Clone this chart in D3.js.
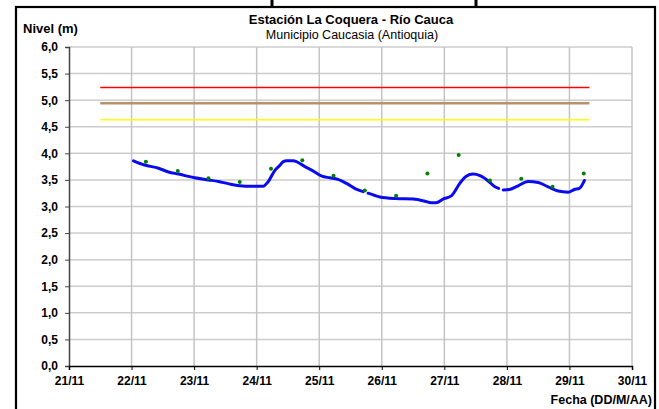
<!DOCTYPE html>
<html>
<head>
<meta charset="utf-8">
<script src="https://cdn.jsdelivr.net/npm/d3@7"></script>
<style>
  html, body { margin: 0; padding: 0; background: #fff; }
  svg { display: block; font-family: Arial, "Liberation Sans", sans-serif; }
</style>
</head>
<body>
<svg id="chart" width="659" height="409"></svg>
<script>
// Water level series (hourly gauge record); null marks a gap in the record
const levelTimes = [
  "2011-11-22 00:45", "2011-11-22 05:00", "2011-11-22 10:20", "2011-11-22 14:10", "2011-11-22 18:00",
  "2011-11-23 00:15", "2011-11-23 05:30", "2011-11-23 09:20", "2011-11-23 13:00", "2011-11-23 17:30",
  "2011-11-23 22:00", "2011-11-24 02:25", "2011-11-24 04:20", "2011-11-24 07:00", "2011-11-24 08:50",
  "2011-11-24 10:05", "2011-11-24 11:30", "2011-11-24 14:00", "2011-11-24 18:30", "2011-11-24 21:35",
  "2011-11-25 01:00", "2011-11-25 04:05", "2011-11-25 07:10", "2011-11-25 11:00", "2011-11-25 14:25",
  "2011-11-25 16:50", "2011-11-25 17:50", "2011-11-25 18:45", "2011-11-25 23:15", "2011-11-26 05:30",
  "2011-11-26 12:00", "2011-11-26 16:35", "2011-11-26 19:00", "2011-11-26 20:50", "2011-11-26 23:30",
  "2011-11-27 02:40", "2011-11-27 06:00", "2011-11-27 08:25", "2011-11-27 11:00", "2011-11-27 13:40",
  "2011-11-27 16:50", "2011-11-27 19:25", "2011-11-27 20:50", "2011-11-27 21:40", "2011-11-27 22:35",
  "2011-11-28 01:00", "2011-11-28 04:20", "2011-11-28 08:10", "2011-11-28 12:00", "2011-11-28 15:50",
  "2011-11-28 19:40", "2011-11-28 23:30", "2011-11-29 01:55", "2011-11-29 03:50", "2011-11-29 05:45"
];
const levelValues = [
  3.86, 3.78, 3.72, 3.65, 3.61,
  3.54, 3.50, 3.47, 3.43, 3.39,
  3.38, 3.38, 3.46, 3.68, 3.77,
  3.84, 3.86, 3.86, 3.75, 3.67,
  3.57, 3.54, 3.51, 3.42, 3.32,
  3.28, null, 3.25, 3.18, 3.15,
  3.14, 3.10, 3.07, 3.07, 3.14,
  3.20, 3.44, 3.57, 3.61, 3.58,
  3.48, 3.37, 3.34, null, 3.31,
  3.32, 3.39, 3.47, 3.45, 3.37,
  3.29, 3.27, 3.32, 3.34, 3.49
];

// Manual staff-gauge readings (twice daily)
const readingTimes = [
  "2011-11-22 05:30", "2011-11-22 17:45", "2011-11-23 05:30", "2011-11-23 17:30", "2011-11-24 05:30",
  "2011-11-24 17:30", "2011-11-25 05:30", "2011-11-25 17:30", "2011-11-26 05:30", "2011-11-26 17:30",
  "2011-11-27 05:30", "2011-11-27 17:30", "2011-11-28 05:30", "2011-11-28 17:30", "2011-11-29 05:30"
];
const readingValues = [3.84, 3.67, 3.53, 3.46, 3.71, 3.87, 3.58, 3.30, 3.20, 3.62, 3.97, 3.49, 3.52, 3.37, 3.62];

// Alert thresholds
const thresholdNames = ["roja", "naranja", "amarilla"];
const thresholdValues = [5.24, 4.94, 4.63];
const thresholdColors = ["#ff0000", "#b8906a", "#ffff00"];
const thresholdWidths = [1.5, 2.5, 1.5];
const thresholdSpan = ["2011-11-21 12:00", "2011-11-29 07:40"];

// Axis ticks
const xTickDates = ["2011-11-21", "2011-11-22", "2011-11-23", "2011-11-24", "2011-11-25",
                    "2011-11-26", "2011-11-27", "2011-11-28", "2011-11-29", "2011-11-30"];
const yTickValues = [0, 0.5, 1, 1.5, 2, 2.5, 3, 3.5, 4, 4.5, 5, 5.5, 6];

const parseTime = d3.timeParse("%Y-%m-%d %H:%M");
const parseDay = d3.timeParse("%Y-%m-%d");

const svg = d3.select("#chart");
const W = 659, H = 409;
const plot = { left: 69, right: 632, top: 47, bottom: 366 };

const x = d3.scaleTime()
  .domain([parseDay(xTickDates[0]), parseDay(xTickDates[xTickDates.length - 1])])
  .range([plot.left, plot.right]);
const y = d3.scaleLinear().domain([0, 6]).range([plot.bottom, plot.top]);

const xTicks = xTickDates.map(parseDay);
const fmtComma = d => d3.format(".1f")(d).replace(".", ",");

// Outer frame
svg.append("rect")
  .attr("x", 16).attr("y", 7).attr("width", 639).attr("height", H)
  .attr("fill", "none").attr("stroke", "#000").attr("stroke-width", 2.2);
// Small marks above the frame
[[272, 0, 6], [476, 0, 6]].forEach(([mx, y0, y1]) => {
  svg.append("line").attr("x1", mx).attr("x2", mx).attr("y1", y0).attr("y2", y1)
    .attr("stroke", "#000").attr("stroke-width", 3);
});

// Gridlines
const grid = svg.append("g");
grid.selectAll("line.h").data(yTickValues.filter(v => v > 0)).join("line")
  .attr("x1", plot.left).attr("x2", plot.right)
  .attr("y1", d => y(d)).attr("y2", d => y(d))
  .attr("stroke", "#cccccc").attr("stroke-width", 1.5);
grid.selectAll("line.v").data(xTicks.slice(1)).join("line")
  .attr("x1", d => x(d)).attr("x2", d => x(d))
  .attr("y1", plot.top).attr("y2", plot.bottom)
  .attr("stroke", "#c4c4c4").attr("stroke-width", 1.5);

// Axes
const yAxis = svg.append("g")
  .attr("transform", `translate(${plot.left},0)`)
  .call(d3.axisLeft(y).tickValues(yTickValues).tickFormat(fmtComma).tickSize(4).tickPadding(7));
yAxis.select(".domain").attr("stroke", "#444").attr("stroke-width", 1.5);
yAxis.selectAll(".tick line").attr("stroke", "#444");
yAxis.selectAll(".tick text")
  .attr("font-size", 12).attr("font-weight", "bold").attr("fill", "#000")
  .attr("font-family", "Arial, 'Liberation Sans', sans-serif");

const xAxis = svg.append("g")
  .attr("transform", `translate(0,${plot.bottom})`)
  .call(d3.axisBottom(x).tickValues(xTicks).tickFormat(d3.timeFormat("%d/%m")).tickSize(4).tickPadding(6));
xAxis.select(".domain").attr("stroke", "#000").attr("stroke-width", 1.5);
xAxis.selectAll(".tick line").attr("stroke", "#000");
xAxis.selectAll(".tick text")
  .attr("font-size", 12).attr("font-weight", "bold").attr("fill", "#000")
  .attr("font-family", "Arial, 'Liberation Sans', sans-serif");

// Threshold lines
const t0 = parseTime(thresholdSpan[0]), t1 = parseTime(thresholdSpan[1]);
svg.append("g").selectAll("line").data(thresholdValues).join("line")
  .attr("class", (d, i) => "umbral-" + thresholdNames[i])
  .attr("x1", x(t0)).attr("x2", x(t1))
  .attr("y1", d => y(d)).attr("y2", d => y(d))
  .attr("stroke", (d, i) => thresholdColors[i])
  .attr("stroke-width", (d, i) => thresholdWidths[i]);

// Level line
const levelData = levelTimes.map((t, i) => ({ t: parseTime(t), v: levelValues[i] }));
const line = d3.line()
  .defined(d => d.v !== null)
  .x(d => x(d.t)).y(d => y(d.v))
  .curve(d3.curveMonotoneX);
svg.append("path").datum(levelData)
  .attr("d", line)
  .attr("fill", "none").attr("stroke", "#0a0af0").attr("stroke-width", 3)
  .attr("stroke-linejoin", "round").attr("stroke-linecap", "round");

// Manual readings
svg.append("g").selectAll("circle").data(readingTimes.map((t, i) => ({ t: parseTime(t), v: readingValues[i] })))
  .join("circle")
  .attr("cx", d => x(d.t)).attr("cy", d => y(d.v)).attr("r", 2)
  .attr("fill", "#008000");

// Titles
svg.append("text").attr("x", 351).attr("y", 24)
  .attr("text-anchor", "middle").attr("font-size", 13).attr("font-weight", "bold")
  .text("Estación La Coquera - Río Cauca");
svg.append("text").attr("x", 352).attr("y", 39)
  .attr("text-anchor", "middle").attr("font-size", 12.5)
  .text("Municipio Caucasia (Antioquia)");
svg.append("text").attr("x", 23).attr("y", 33)
  .attr("font-size", 13).attr("font-weight", "bold")
  .text("Nivel (m)");
svg.append("text").attr("x", 652).attr("y", 404)
  .attr("text-anchor", "end").attr("font-size", 12.5).attr("font-weight", "bold")
  .text("Fecha (DD/M/AA)");
</script>
</body>
</html>
